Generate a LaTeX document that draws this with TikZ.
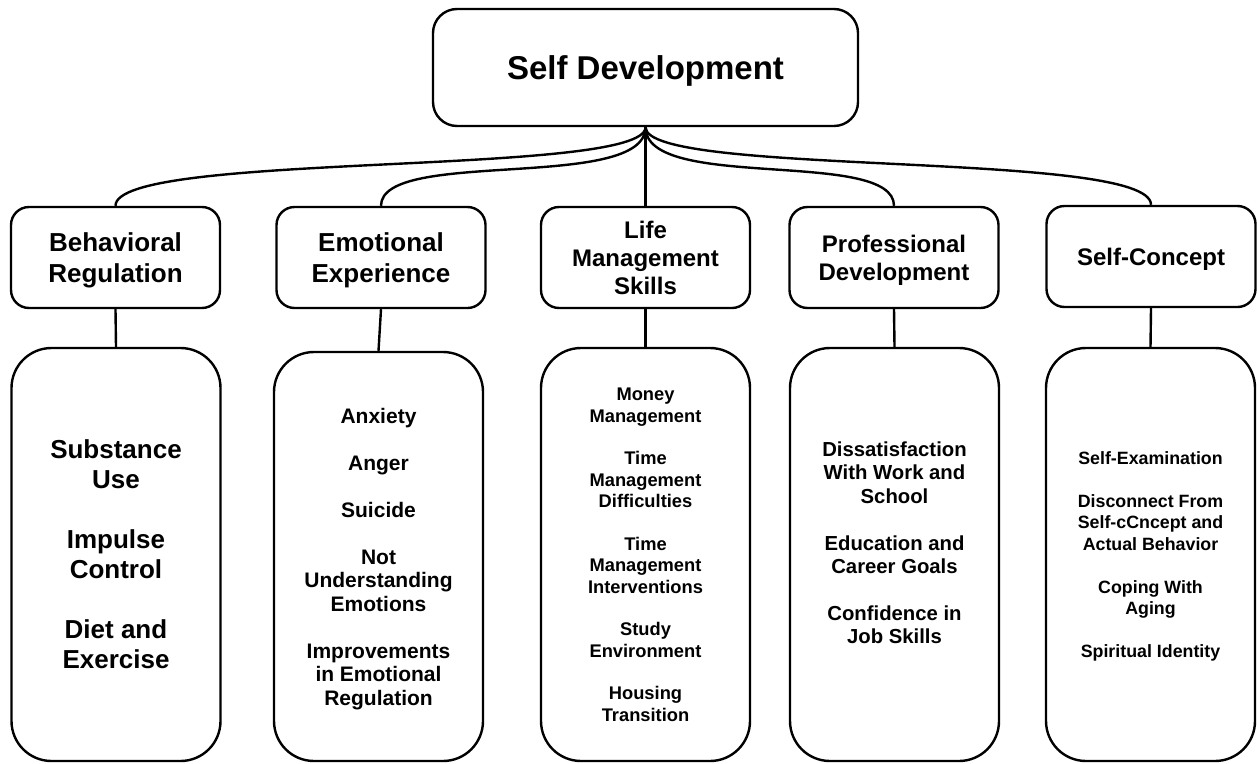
\documentclass[tikz,border=0pt]{standalone}
\usepackage{fontspec}
\setmainfont{Liberation Sans}
\begin{document}
\begin{tikzpicture}[x=1pt,y=-1pt,
  box/.style={draw=black, line width=2.4pt, rounded corners=#1, align=center, inner sep=0pt, text depth=0pt},
  topbox/.style={box=24pt, minimum width=425pt, minimum height=117pt, font=\bfseries\fontsize{33}{38}\selectfont},
  midbox/.style={box=18pt, minimum width=209pt, minimum height=101pt, font=\bfseries\fontsize{24}{28}\selectfont},
  midboxl/.style={midbox, font=\bfseries\fontsize{26}{31}\selectfont},
  detbox/.style={box=40pt, minimum width=209pt, minimum height=#1},
  conn/.style={draw=black, line width=2.4pt}]
\useasboundingbox (0,0) rectangle (1257,763);

\node[topbox] (top) at (645.5,67.5) {Self Development};

\node[midboxl] (beh)  at (115.5,257.5) {Behavioral\\Regulation};
\node[midboxl] (emo)  at (381,257.5) {Emotional\\Experience};
\node[midbox] (life) at (645.5,257.5) {Life\\Management\\Skills};
\node[midbox] (prof) at (894,257.5) {Professional\\Development};
\node[midbox] (self) at (1151,256.5) {Self-Concept};

\node[detbox=413pt, font=\bfseries\fontsize{26}{30}\selectfont] (behd) at (116,554.5)
  {Substance\\Use\\[30pt]Impulse\\Control\\[30pt]Diet and\\Exercise};
\node[detbox=409pt, font=\bfseries\fontsize{21}{23.5}\selectfont] (emod) at (378.5,556.5)
  {Anxiety\\[23.5pt]Anger\\[23.5pt]Suicide\\[23.5pt]Not\\Understanding\\Emotions\\[23.5pt]Improvements\\in Emotional\\Regulation};
\node[detbox=413pt, font=\bfseries\fontsize{18.3}{21.5}\selectfont] (lifed) at (645.5,554.5)
  {Money\\Management\\[21pt]Time\\Management\\Difficulties\\[21pt]Time\\Management\\Interventions\\[21pt]Study\\Environment\\[21pt]Housing\\Transition};
\node[detbox=413pt, font=\bfseries\fontsize{20.3}{23.3}\selectfont] (profd) at (894.5,554.5)
  {Dissatisfaction\\With Work and\\School\\[23.7pt]Education and\\Career Goals\\[23.7pt]Confidence in\\Job Skills\\~};
\node[detbox=413pt, font=\bfseries\fontsize{17.8}{21.5}\selectfont] (selfd) at (1150.5,554.5)
  {Self-Examination\\[21.5pt]Disconnect From\\Self-cCncept and\\Actual Behavior\\[21.5pt]Coping With\\Aging\\[21.5pt]Spiritual Identity};

\draw[conn] (top.south) .. controls +(0,50) and +(0,-55) .. (beh.north);
\draw[conn] (top.south) .. controls +(0,65) and +(0,-58) .. (emo.north);
\draw[conn] (top.south) -- (life.north);
\draw[conn] (top.south) .. controls +(0,65) and +(0,-58) .. (prof.north);
\draw[conn] (top.south) .. controls +(0,50) and +(0,-55) .. (self.north);

\draw[conn] (beh.south) -- (behd.north);
\draw[conn] (emo.south) -- (emod.north);
\draw[conn] (life.south) -- (lifed.north);
\draw[conn] (prof.south) -- (profd.north);
\draw[conn] (self.south) -- (selfd.north);
\end{tikzpicture}
\end{document}
